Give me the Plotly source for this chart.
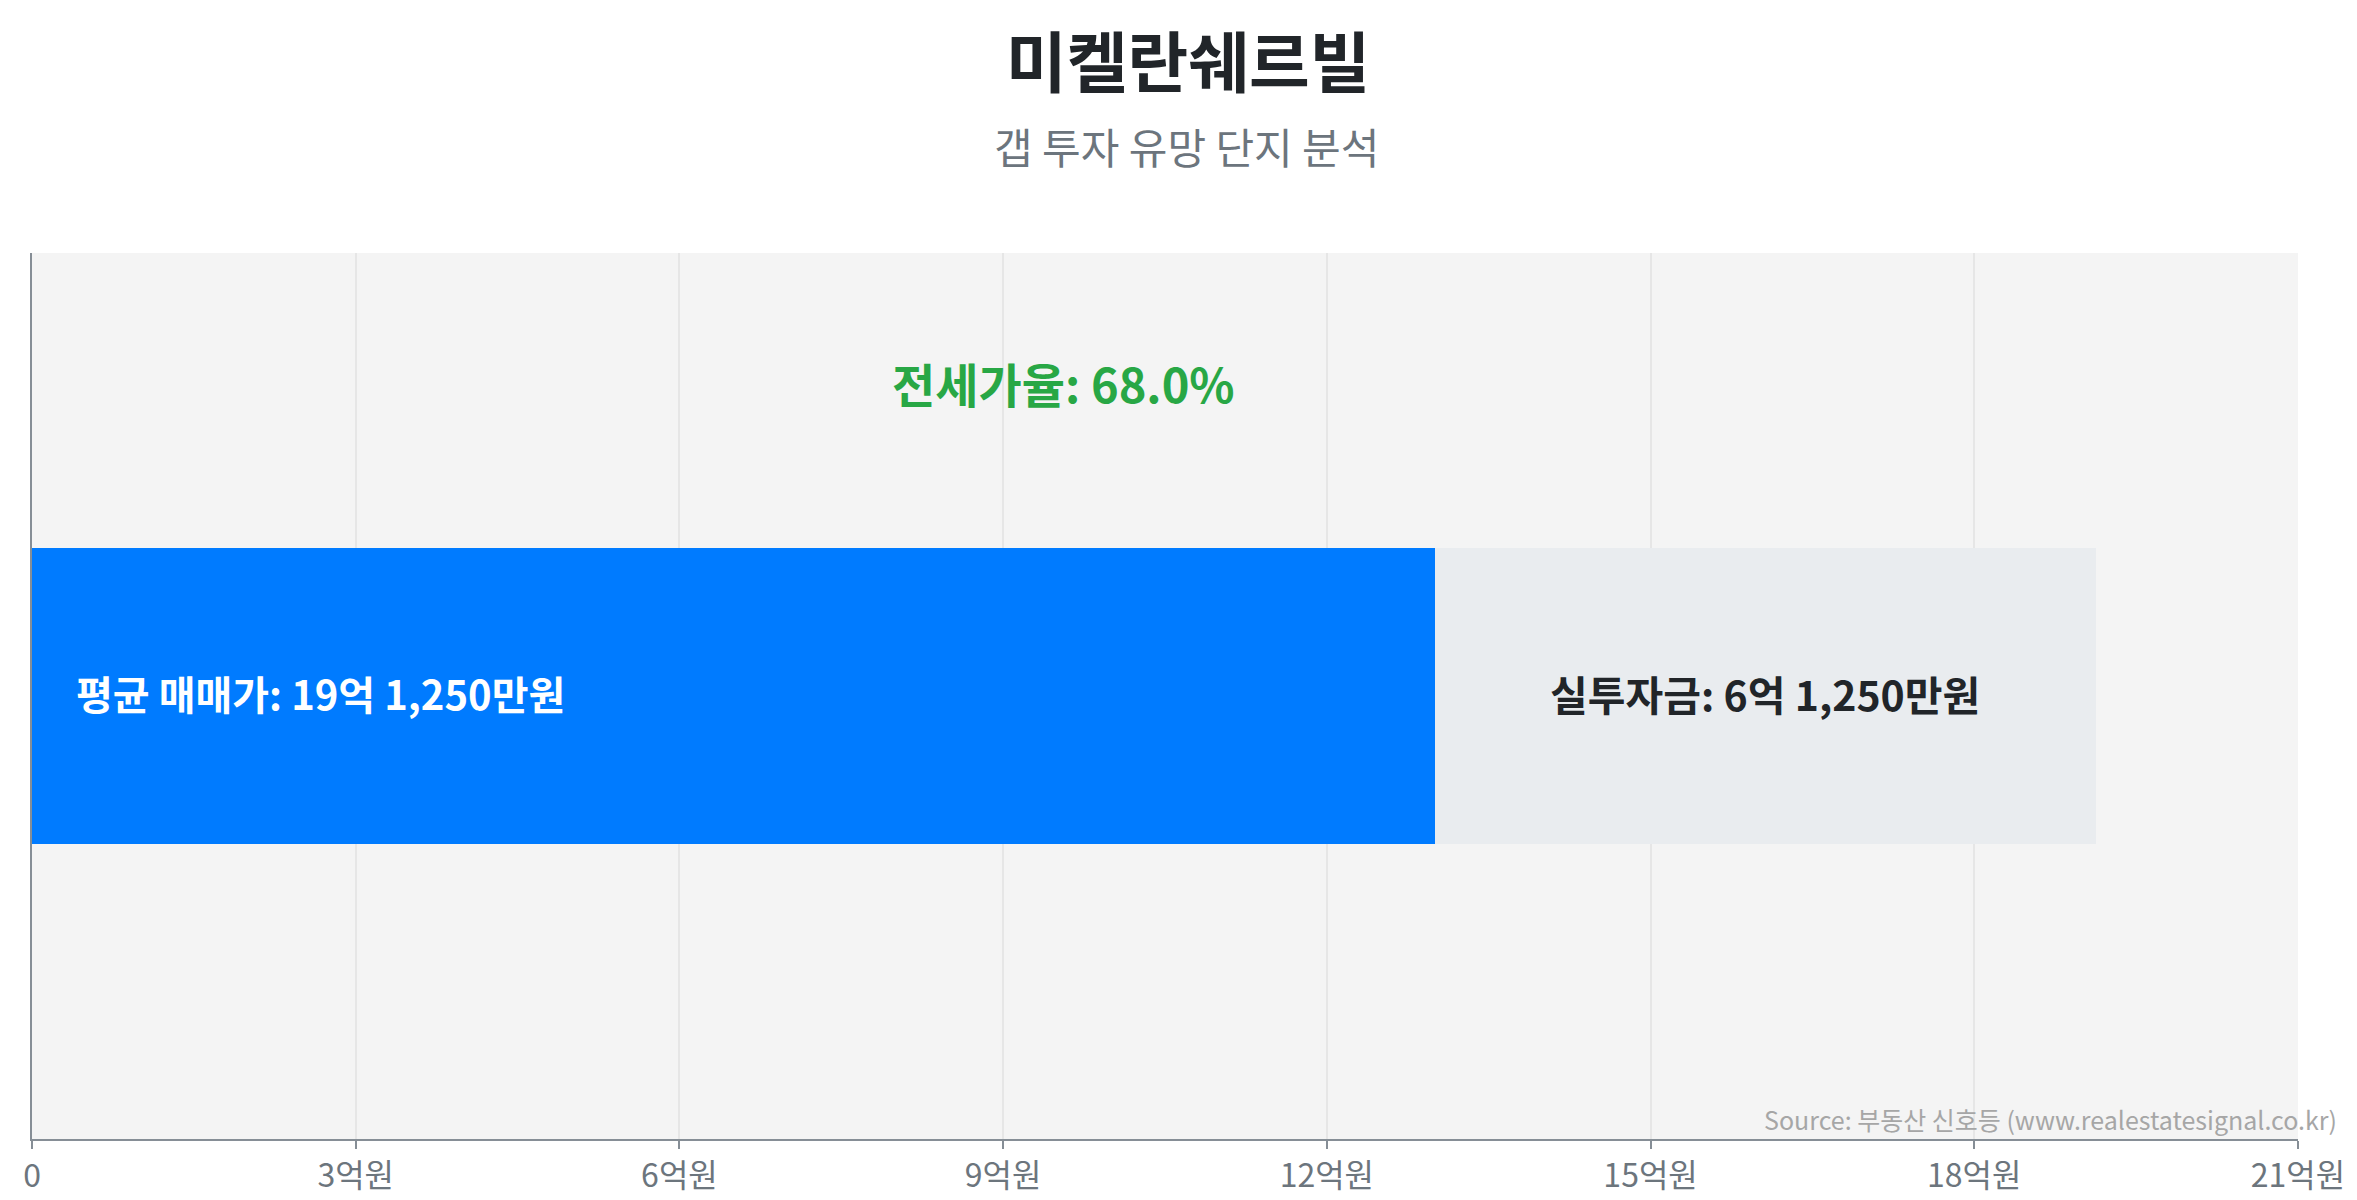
import plotly.graph_objects as go

# ---- data (억원) ----
complex_name = "미켈란쉐르빌"
subtitle = "갭 투자 유망 단지 분석"
sale_price = 19.125      # 평균 매매가
jeonse_price = 13.0      # 전세가
gap_amount = 6.125       # 실투자금
jeonse_ratio = 68.0      # 전세가율 (%)

tick_vals = [0, 3, 6, 9, 12, 15, 18, 21]
tick_text = ["0", "3억원", "6억원", "9억원", "12억원", "15억원", "18억원", "21억원"]

FONT = "Noto Sans CJK KR"

# plot area in pixels (from the reference)
W, H = 2357, 1200
L, R, T, B = 24, 2290, 245, 1138


def fmt_eok(v):
    eok = int(v)
    man = round((v - eok) * 10000)
    if man:
        return f"{eok}억 {man:,}만원"
    return f"{eok}억원"


fig = go.Figure()

fig.add_trace(go.Bar(
    x=[jeonse_price], y=[0], orientation="h", width=1 / 3,
    marker=dict(color="#007bff", line=dict(width=0)),
    hoverinfo="skip", showlegend=False,
))
fig.add_trace(go.Bar(
    x=[gap_amount], y=[0], orientation="h", width=1 / 3,
    marker=dict(color="#e9ecef", line=dict(width=0)),
    hoverinfo="skip", showlegend=False,
))

annotations = [
    # title
    dict(x=(1180 - L) / (R - L), y=(B - 48) / (B - T), xref="paper", yref="paper",
         xanchor="center", yanchor="middle", showarrow=False,
         text="<b>" + complex_name + "</b>",
         font=dict(family=FONT, size=66, color="#212529")),
    # bar labels
    dict(x=0, y=0, xref="x", yref="y", xanchor="left", xshift=42, yshift=3,
         text="<b>평균 매매가: " + fmt_eok(sale_price) + "</b>",
         showarrow=False, font=dict(family=FONT, size=40, color="#ffffff")),
    dict(x=jeonse_price + gap_amount / 2, y=0, xref="x", yref="y", yshift=3,
         text="<b>실투자금: " + fmt_eok(gap_amount) + "</b>",
         showarrow=False, font=dict(family=FONT, size=41, color="#212529")),
    # ratio
    dict(x=sale_price / 2, y=0.354, xref="x", yref="y",
         text=f"<b>전세가율: {jeonse_ratio:.1f}%</b>",
         showarrow=False, font=dict(family=FONT, size=47, color="#28a745")),
    # subtitle
    dict(x=(W / 2 - L) / (R - L), y=(B - 137) / (B - T), xref="paper", yref="paper",
         xanchor="center", yanchor="middle", text=subtitle, showarrow=False,
         font=dict(family=FONT, size=42, color="#6c757d")),
    # source
    dict(x=(2331 - L) / (R - L), y=0, xref="paper", yref="paper", xanchor="right",
         yanchor="bottom", showarrow=False,
         text="Source: 부동산 신호등 (www.realestatesignal.co.kr)",
         font=dict(family=FONT, size=25, color="#a6a6a6")),
]

fig.update_layout(
    width=W, height=H,
    barmode="stack",
    paper_bgcolor="#ffffff",
    plot_bgcolor="#f4f4f4",
    margin=dict(l=L, r=W - R, t=T, b=H - B),
    font=dict(family=FONT),
    annotations=annotations,
    xaxis=dict(
        range=[0, 21], tickvals=tick_vals, ticktext=tick_text,
        showgrid=True, gridcolor="#e6e6e6", gridwidth=2,
        showline=True, linecolor="#868e96", linewidth=2,
        ticks="outside", ticklen=8, tickwidth=2, tickcolor="#868e96",
        tickfont=dict(family=FONT, size=32, color="#6c757d"),
        zeroline=False, fixedrange=True,
    ),
    yaxis=dict(
        range=[-0.5, 0.5], showticklabels=False, showgrid=False,
        showline=True, linecolor="#868e96", linewidth=2,
        zeroline=False, fixedrange=True,
    ),
)

fig.write_html("out.html")
